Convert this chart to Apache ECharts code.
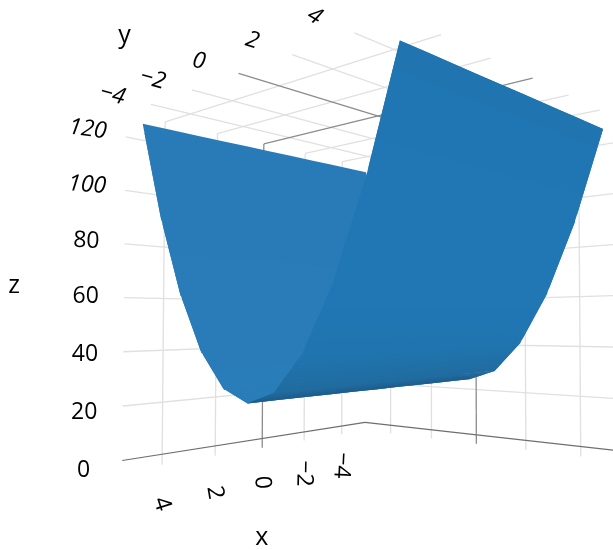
<!DOCTYPE html>
<html>
<head>
<meta charset="utf-8">
<style>html,body{margin:0;padding:0;background:#fff}#chart{width:613px;height:550px}</style>
<script src="https://cdn.jsdelivr.net/npm/echarts@6/dist/echarts.min.js"></script>
</head>
<body>
<div id="chart"></div>
<script>
// surface grid
const xValues = [-5, -4, -3, -2, -1, 0, 1, 2, 3, 4, 5]
const yValues = [-5, -4, -3, -2, -1, 0, 1, 2, 3, 4, 5]
const zRows = [
  [125, 125, 125, 125, 125, 125, 125, 125, 125, 125, 125],
  [89, 89, 89, 89, 89, 89, 89, 89, 89, 89, 89],
  [61, 61, 61, 61, 61, 61, 61, 61, 61, 61, 61],
  [41, 41, 41, 41, 41, 41, 41, 41, 41, 41, 41],
  [29, 29, 29, 29, 29, 29, 29, 29, 29, 29, 29],
  [25, 25, 25, 25, 25, 25, 25, 25, 25, 25, 25],
  [29, 29, 29, 29, 29, 29, 29, 29, 29, 29, 29],
  [41, 41, 41, 41, 41, 41, 41, 41, 41, 41, 41],
  [61, 61, 61, 61, 61, 61, 61, 61, 61, 61, 61],
  [89, 89, 89, 89, 89, 89, 89, 89, 89, 89, 89],
  [125, 125, 125, 125, 125, 125, 125, 125, 125, 125, 125]
]
const xTicks = [-4, -2, 0, 2, 4]
const yTicks = [-4, -2, 0, 2, 4]
const zTicks = [0, 20, 40, 60, 80, 100, 120]

const xyEdge = 5.35
const zTop = 129
// fitted camera, scene to pixels
const camera = [
  [-34.25872, 13.96306, 0.04123479, 377.4439],
  [-10.49876, -9.440558, -2.620477, 455.6515],
  [-0.03312164, -0.02885192, 0.000103054, 1]
]
const depth = (x, y, z) => camera[2][0] * x + camera[2][1] * y + camera[2][2] * z + camera[2][3]
const project = (x, y, z) => {
  const w = depth(x, y, z)
  return [
    (camera[0][0] * x + camera[0][1] * y + camera[0][2] * z + camera[0][3]) / w,
    (camera[1][0] * x + camera[1][1] * y + camera[1][2] * z + camera[1][3]) / w
  ]
}

// shade per |y|, inside of the far half and outside of the near half
const innerShades = ['#297db9', '#297db9', '#297cb8', '#297cb8', '#287bb7', '#287bb7']
const outerShades = ['#1f5c8b', '#206c9f', '#2075b0', '#2077b4', '#2077b4', '#2075b1']
const shadeSteps = 10

const segments = []
xTicks.forEach(t => {
  const c = t === 0 ? 'zero' : 'grid'
  segments.push([t, -xyEdge, -4, t, -xyEdge, zTop, c])
  segments.push([t, -xyEdge, zTop, t, xyEdge, zTop, c])
})
yTicks.forEach(t => {
  const c = t === 0 ? 'zero' : 'grid'
  segments.push([-xyEdge, t, -4, -xyEdge, t, zTop, c])
  segments.push([xyEdge, t, zTop, -xyEdge, t, zTop, c])
})
zTicks.forEach(t => {
  const c = t === 0 ? 'axis' : 'grid'
  segments.push([xyEdge, -xyEdge, t, -xyEdge, -xyEdge, t, c])
  segments.push([-xyEdge, -xyEdge, t, -xyEdge, xyEdge, t, c])
})
const lineStyles = {
  grid: { stroke: '#e0e0e0', lineWidth: 1.3 },
  zero: { stroke: '#8c8c8c', lineWidth: 1.3 },
  axis: { stroke: '#6e6e6e', lineWidth: 1.2 }
}
// grid first, so the dark lines end up over the light ones
segments.sort((a, b) => (a[6] === 'grid' ? 0 : 1) - (b[6] === 'grid' ? 0 : 1))

// one strip per step of y, far strips first
const strips = yValues.slice(1).map((y, j) => j)
const stripDepth = j => depth(0, (yValues[j] + yValues[j + 1]) / 2, (zRows[j][5] + zRows[j + 1][5]) / 2)
strips.sort((a, b) => stripDepth(b) - stripDepth(a))

const shadeOf = (j, inner) => {
  const n = Math.abs(yValues[j])
  return inner ? innerShades[n] : outerShades[n]
}

const renderLine = (params, api) => {
  const s = segments[params.dataIndex]
  const a = api.coord(project(s[0], s[1], s[2]))
  const b = api.coord(project(s[3], s[4], s[5]))
  return {
    type: 'line',
    shape: { x1: a[0], y1: a[1], x2: b[0], y2: b[1] },
    style: lineStyles[s[6]]
  }
}

// the strip is flat, only its colour is stepped across it.
// each band runs under the next one so no seam shows
const renderStrip = (params, api) => {
  const j = strips[params.dataIndex]
  const edgeA = xValues.map((x, i) => api.coord(project(x, yValues[j], zRows[j][i])))
  const edgeB = xValues.map((x, i) => api.coord(project(x, yValues[j + 1], zRows[j + 1][i])))
  const inner = yValues[j] + yValues[j + 1] < 0
  const colorA = shadeOf(j, inner)
  const colorB = shadeOf(j + 1, inner)
  const isEnd = yValues[j + 1] === 0 || j + 2 === yValues.length
  const tEnd = isEnd ? 1 : 1.04
  const at = t => edgeA.map((p, i) => [p[0] + (edgeB[i][0] - p[0]) * t, p[1] + (edgeB[i][1] - p[1]) * t])
  const children = []
  for (let k = 0; k < shadeSteps; k++) {
    const color = echarts.color.lerp((k + 0.5) / shadeSteps, [colorA, colorB])
    const t1 = k + 1 === shadeSteps ? tEnd : Math.min((k + 2) / shadeSteps, tEnd)
    children.push({
      type: 'polygon',
      shape: { points: at(k / shadeSteps).concat(at(t1).reverse()) },
      style: { fill: color }
    })
  }
  return { type: 'group', children: children }
}

// rotation in degrees, counter clockwise, as the flat labels sit in the scene
const labelFont = 'Open Sans, sans-serif'
const xRotations = [-93, -91, -87, -80, -72]
const yRotations = [-15, -15, -12, -17, -30]
const tickText = v => (v < 0 ? '\u2212' + Math.abs(v) : String(v))
const labels = []
xTicks.forEach((t, i) => labels.push({ text: tickText(t), at: [t, -xyEdge, -19], rot: xRotations[i], size: 23 }))
yTicks.forEach((t, i) => labels.push({ text: tickText(t), at: [xyEdge + 1.2, t, zTop], rot: yRotations[i], size: 23, italic: true }))
zTicks.forEach(t => labels.push({
  text: tickText(t),
  at: [xyEdge + 1.2, -xyEdge, t < 60 ? t - (60 - t) / 40 : t],
  rot: t > 60 ? -(t - 60) / 8 : 0,
  size: 23,
  italic: t >= 100
}))
labels.push({ text: 'x', at: [0, -xyEdge, -43], rot: 0, size: 25 })
labels.push({ text: 'y', at: [xyEdge + 1.2, -3.4, 147.5], rot: 0, size: 25 })
labels.push({ text: 'z', at: [xyEdge + 3.2, -xyEdge, 63], rot: 0, size: 25 })

const renderLabel = (params, api) => {
  const l = labels[params.dataIndex]
  const p = api.coord(project(l.at[0], l.at[1], l.at[2]))
  return {
    type: 'text',
    x: p[0],
    y: p[1],
    rotation: l.rot * Math.PI / 180,
    style: {
      text: l.text,
      font: (l.italic ? 'italic ' : '') + l.size + 'px ' + labelFont,
      fill: '#000',
      textAlign: 'center',
      textVerticalAlign: 'middle'
    }
  }
}

const myChart = echarts.init(document.getElementById('chart'))
myChart.setOption({
  animation: false,
  backgroundColor: '#fff',
  grid: { left: 0, right: 0, top: 0, bottom: 0 },
  xAxis: { type: 'value', min: 0, max: 613, show: false },
  yAxis: { type: 'value', min: 0, max: 550, inverse: true, show: false },
  series: [
    { type: 'custom', coordinateSystem: 'cartesian2d', renderItem: renderLine, data: segments.map((s, i) => [i]), silent: true, z: 1 },
    { type: 'custom', coordinateSystem: 'cartesian2d', renderItem: renderStrip, data: strips.map((s, i) => [i]), silent: true, z: 2 },
    { type: 'custom', coordinateSystem: 'cartesian2d', renderItem: renderLabel, data: labels.map((l, i) => [i]), silent: true, z: 3 }
  ]
})
</script>
</body>
</html>
